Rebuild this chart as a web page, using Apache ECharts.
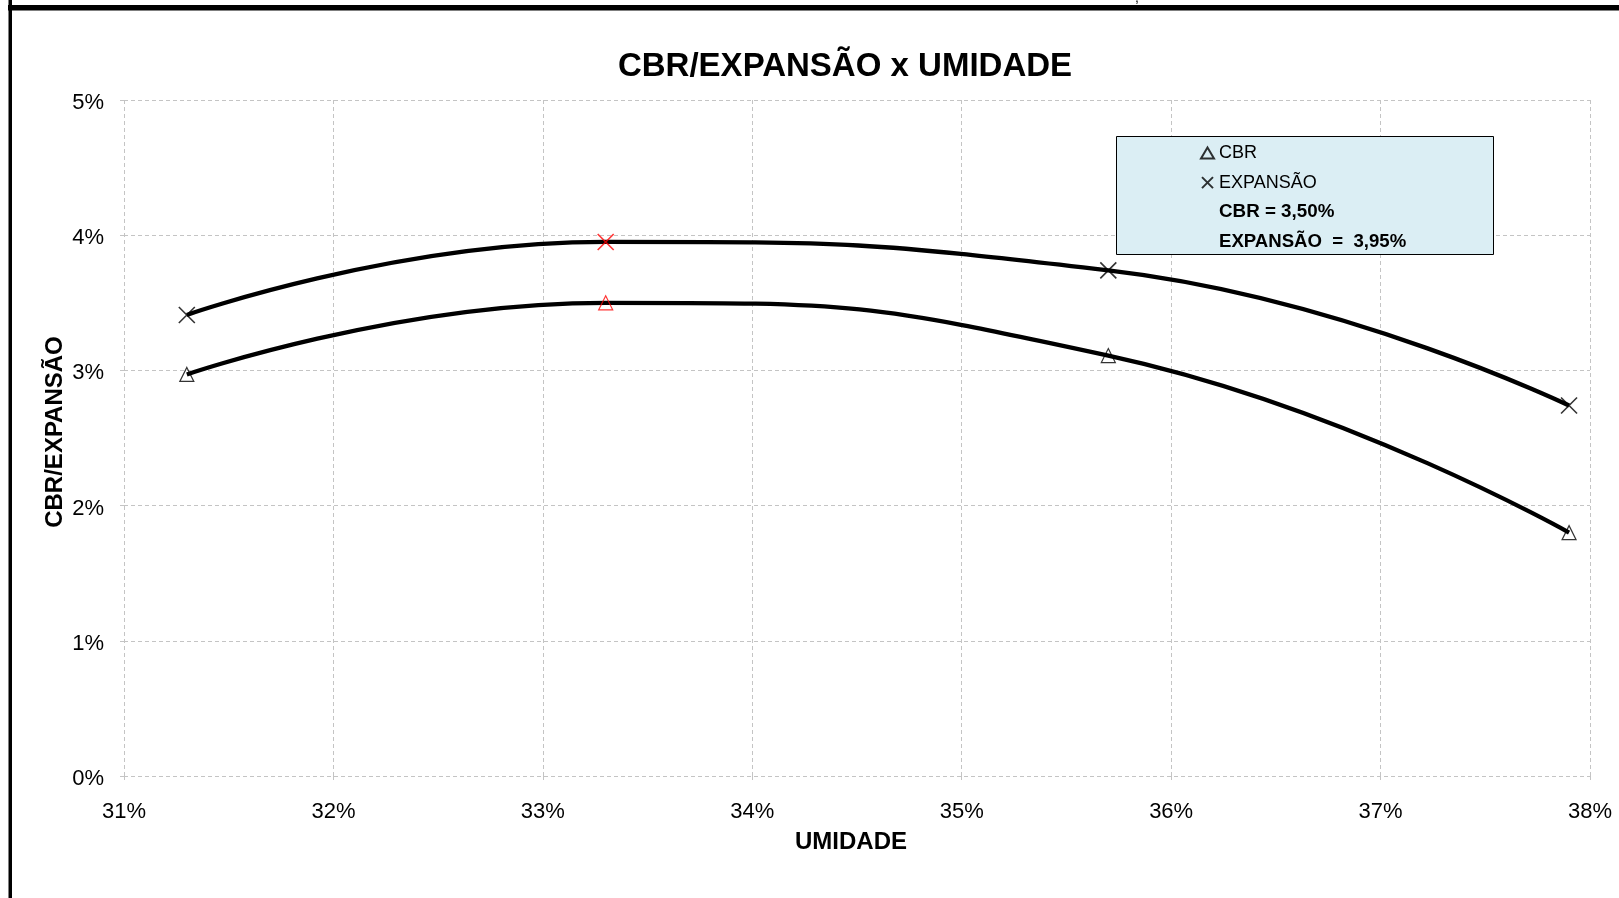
<!DOCTYPE html>
<html>
<head>
<meta charset="utf-8">
<script src="https://cdn.jsdelivr.net/npm/echarts@6/dist/echarts.min.js"></script>
<style>
  html, body { margin: 0; padding: 0; background: #fff; }
  #chart { width: 1619px; height: 898px; }
</style>
</head>
<body>
<div id="chart"></div>
<script>
// Ensaio CBR: umidade (%) x CBR (%) e expansão (%)
const umidade = [31.3, 33.3, 35.7, 37.9];
const cbr = [2.97, 3.50, 3.11, 1.80];
const expansao = [3.41, 3.95, 3.74, 2.74];

// Ponto de umidade ótima (valores de projeto)
const umidadeOtima = 33.3;
const cbrOtimo = 3.50;
const expansaoOtima = 3.95;

// Eixos
const xTicks = [31, 32, 33, 34, 35, 36, 37, 38];
const yTicks = [0, 1, 2, 3, 4, 5];

const FONT = 'Liberation Sans, Arial, Helvetica, sans-serif';
const fmt = v => v.toFixed(2).replace('.', ',');
const nomeCbrOtimo = 'CBR = ' + fmt(cbrOtimo) + '%';
const nomeExpOtima = 'EXPANSÃO  =  ' + fmt(expansaoOtima) + '%';

const pares = (xs, ys) => xs.map((x, i) => [x, ys[i]]);
// marcadores pretos; o ponto ótimo é desenhado em vermelho por cima
const marcadores = (xs, ys) => xs.map((x, i) => ({
  value: [x, ys[i]],
  itemStyle: x === umidadeOtima ? { opacity: 0 } : undefined
}));

const X_PATH = 'path://M0,0L10,10M10,0L0,10';
const gridLine = { color: '#c4c4c4', width: 1, type: [4, 3] };

const chart = echarts.init(document.getElementById('chart'), null, { renderer: 'canvas' });

chart.setOption({
  animation: false,
  backgroundColor: '#ffffff',
  title: {
    text: 'CBR/EXPANSÃO x UMIDADE',
    left: 840,
    top: 45,
    textAlign: 'center',
    textStyle: { fontFamily: FONT, fontSize: 33, fontWeight: 'bold', color: '#000' }
  },
  grid: { left: 124, right: 29, top: 100, bottom: 122, containLabel: false },
  xAxis: {
    type: 'value',
    min: xTicks[0],
    max: xTicks[xTicks.length - 1],
    interval: 1,
    name: 'UMIDADE',
    nameLocation: 'middle',
    nameGap: 54,
    nameTextStyle: { fontFamily: FONT, fontSize: 24, fontWeight: 'bold', color: '#000', padding: [0, 12, 0, 0] },
    axisLine: { show: false },
    axisTick: { show: true, length: 7, lineStyle: gridLine },
    axisLabel: { fontFamily: FONT, fontSize: 22, color: '#000', margin: 25, formatter: v => v + '%' },
    splitLine: { show: true, lineStyle: gridLine }
  },
  yAxis: {
    type: 'value',
    min: yTicks[0],
    max: yTicks[yTicks.length - 1],
    interval: 1,
    name: 'CBR/EXPANSÃO',
    nameLocation: 'middle',
    nameGap: 57,
    nameMoveOverlap: false,
    nameRotate: 90,
    nameTextStyle: { fontFamily: FONT, fontSize: 24, fontWeight: 'bold', color: '#000', padding: [0, 0, 0, 12] },
    axisLine: { show: false },
    axisTick: { show: true, length: 7, lineStyle: gridLine },
    axisLabel: {
      fontFamily: FONT, fontSize: 22, color: '#000', margin: 20,
      verticalAlign: 'top', lineHeight: 6,
      formatter: v => v + '%'
    },
    splitLine: { show: true, lineStyle: gridLine }
  },
  legend: {
    orient: 'vertical',
    left: 1200,
    top: 143,
    padding: 0,
    itemWidth: 13,
    itemHeight: 11,
    itemGap: 9.6,
    selectedMode: false,
    z: 6,
    textStyle: { fontFamily: FONT, fontSize: 18, color: '#000', lineHeight: 20 },
    data: [
      { name: 'CBR' },
      { name: 'EXPANSÃO' },
      { name: nomeCbrOtimo, icon: 'none', textStyle: { fontWeight: 'bold', fontSize: 18.8 } },
      { name: nomeExpOtima, icon: 'none', textStyle: { fontWeight: 'bold', fontSize: 18.6 } }
    ]
  },
  graphic: [
    // caixa da legenda
    { type: 'rect', z: 5, shape: { x: 1116.5, y: 136.5, width: 377, height: 118 },
      style: { fill: '#dbeef4', stroke: '#000', lineWidth: 1 } },
    // bordas da planilha
    { type: 'rect', z: 10, shape: { x: 8, y: 5, width: 1611, height: 5.5 }, style: { fill: '#000' } },
    { type: 'rect', z: 10, shape: { x: 8.5, y: 0, width: 3.5, height: 898 }, style: { fill: '#000' } },
    { type: 'text', z: 10, x: 1135, y: -9,
      style: { text: ',', fill: '#000', font: '14px ' + FONT } }
  ],
  series: [
    {
      name: 'CBR',
      type: 'scatter',
      z: 2,
      symbol: 'triangle',
      symbolSize: 14,
      itemStyle: { color: 'rgba(255,255,255,0)', borderColor: '#000', borderWidth: 1.2 },
      data: marcadores(umidade, cbr)
    },
    {
      name: 'EXPANSÃO',
      type: 'scatter',
      z: 2,
      symbol: X_PATH,
      symbolSize: 16,
      itemStyle: { color: 'rgba(0,0,0,0)', borderColor: '#000', borderWidth: 1.6 },
      data: marcadores(umidade, expansao)
    },
    {
      name: 'curva CBR',
      type: 'line',
      z: 3,
      smooth: 0.5,
      showSymbol: false,
      symbol: 'none',
      lineStyle: { color: '#000', width: 4.3 },
      data: pares(umidade, cbr)
    },
    {
      name: 'curva EXPANSÃO',
      type: 'line',
      z: 3,
      smooth: 0.5,
      showSymbol: false,
      symbol: 'none',
      lineStyle: { color: '#000', width: 4.3 },
      data: pares(umidade, expansao)
    },
    {
      name: nomeCbrOtimo,
      type: 'scatter',
      z: 4,
      symbol: 'triangle',
      symbolSize: 14,
      itemStyle: { color: 'rgba(255,255,255,0)', borderColor: '#ff0000', borderWidth: 1.2 },
      data: [[umidadeOtima, cbrOtimo]]
    },
    {
      name: nomeExpOtima,
      type: 'scatter',
      z: 4,
      symbol: X_PATH,
      symbolSize: 16,
      itemStyle: { color: 'rgba(0,0,0,0)', borderColor: '#ff0000', borderWidth: 1.6 },
      data: [[umidadeOtima, expansaoOtima]]
    }
  ]
});
</script>
</body>
</html>
